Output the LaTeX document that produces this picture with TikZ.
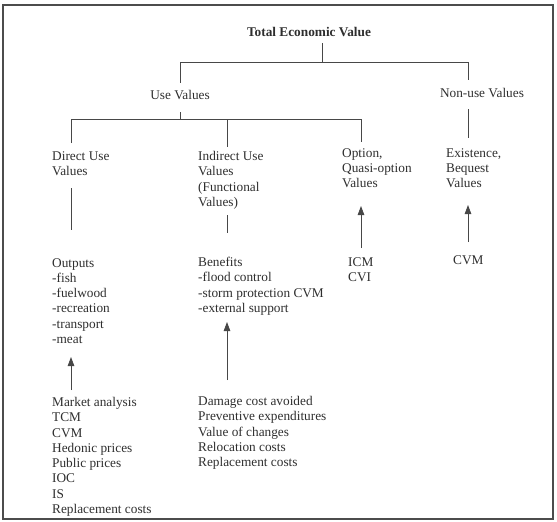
\documentclass[tikz,border=0pt]{standalone}
\usepackage{fontspec}
\setmainfont{Liberation Serif}
\usetikzlibrary{arrows.meta}
\begin{document}
\begin{tikzpicture}[x=1pt,y=-1pt,
  lbl/.style={inner sep=0pt, anchor=north west, align=left, text=black!82,
    font=\fontsize{13.3}{15.3}\selectfont},
  single/.style={inner sep=0pt, anchor=base, text=black!82,
    font=\fontsize{13.3}{15.3}\selectfont},
  conn/.style={draw=black!72, line width=0.8pt},
  up/.style={conn, -{Triangle[length=9pt,width=6.5pt]}},
  frame/.style={draw=black!70, line width=1.5pt}]
\useasboundingbox (0,0) rectangle (557,522);
\draw[frame] (3,5) rectangle (553,519);

% nodes
\node[single, font=\fontsize{13.3}{15.3}\selectfont\bfseries] (tev) at (309,36) {Total Economic Value};
\node[single] (use) at (180,99) {Use Values};
\node[single] (nonuse) at (482,97) {Non-use Values};
\node[lbl] (direct) at (52,151) {Direct Use\\Values};
\node[lbl] (indirect) at (198,151) {Indirect Use\\Values\\(Functional\\Values)};
\node[lbl] (option) at (342,148) {Option,\\Quasi-option\\Values};
\node[lbl] (exist) at (446,148) {Existence,\\Bequest\\Values};
\node[lbl] (outputs) at (52,258) {Outputs\\-fish\\-fuelwood\\-recreation\\-transport\\-meat};
\node[lbl] (benefits) at (198,257) {Benefits\\-flood control\\-storm protection CVM\\-external support};
\node[lbl] (icm) at (348,257) {ICM\\CVI};
\node[lbl] (cvm) at (453,255) {CVM};
\node[lbl] (market) at (52,397) {Market analysis\\TCM\\CVM\\Hedonic prices\\Public prices\\IOC\\IS\\Replacement costs};
\node[lbl] (damage) at (198,396) {Damage cost avoided\\Preventive expenditures\\Value of changes\\Relocation costs\\Replacement costs};

% junction coordinates
\coordinate (j0) at (322,62);
\coordinate (jL) at (180,62);
\coordinate (jR) at (468,62);
\coordinate (nuTop) at (468,80);
\coordinate (k0) at (180,119);
\coordinate (kD) at (71,119);
\coordinate (kI) at (227,119);
\coordinate (kO) at (361,119);

% tree connectors
\draw[conn] ([yshift=-7pt]tev.base -| j0) -- (j0);
\draw[conn] ([yshift=7pt]use.north) -- (jL) -- (jR) -- (nuTop);
\draw[conn] ([yshift=-13pt]use.base) -- (k0);
\draw[conn] ([yshift=8pt]direct.north -| kD) -- (kD) -- (kO) -- ([yshift=6pt]option.north -| kO);
\draw[conn] (kI) -- ([yshift=4pt]indirect.north -| kI);
\draw[conn] ([yshift=-12pt]nonuse.base -| jR) -- ([yshift=10pt]exist.north -| jR);
\draw[conn] ([yshift=-37pt]direct.north -| kD) -- ([yshift=28pt]outputs.north -| kD);
\draw[conn] ([yshift=-64pt]indirect.north -| kI) -- ([yshift=24pt]benefits.north -| kI);

% arrows
\draw[up] ([yshift=7pt]market.north -| kD) -- ([yshift=-99pt]outputs.north -| kD);
\draw[up] ([yshift=16pt]damage.north -| kI) -- ([yshift=-65pt]benefits.north -| kI);
\draw[up] ([yshift=9pt]icm.north -| kO) -- ([yshift=-58pt]option.north -| kO);
\draw[up] ([yshift=13pt]cvm.north -| jR) -- ([yshift=-57pt]exist.north -| jR);
\end{tikzpicture}
\end{document}
